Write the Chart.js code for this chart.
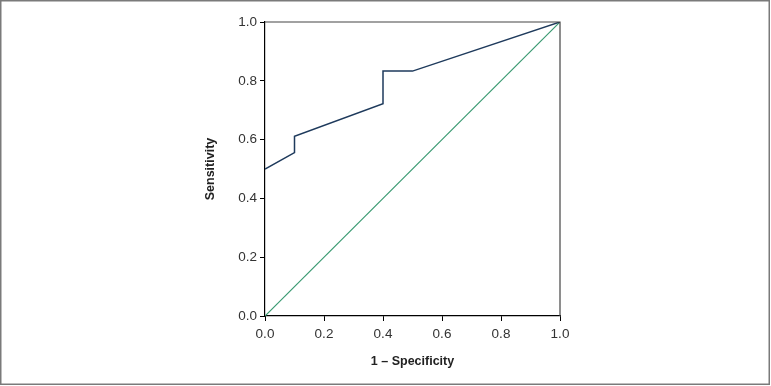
<!DOCTYPE html>
<html>
<head>
<meta charset="utf-8">
<script src="https://cdn.jsdelivr.net/npm/chart.js@4"></script>
<style>
  html, body { margin: 0; padding: 0; background: #fff; }
  #wrap { width: 771px; height: 386px; }
</style>
</head>
<body>
<div id="wrap"><canvas id="roc" width="771" height="386"></canvas></div>
<script>
'use strict';

// ROC curve points
const fpr = [0, 0.1, 0.1, 0.4, 0.4, 0.5, 1];
const tpr = [0.5, 0.556, 0.611, 0.722, 0.833, 0.833, 1];

// chance line
const refX = [0, 1];
const refY = [0, 1];

const tickValues = [0, 0.2, 0.4, 0.6, 0.8, 1];

const toPoints = (xs, ys) => xs.map((x, i) => ({ x: x, y: ys[i] }));

// outer frame + top/right edges of the plot box
const framePlugin = {
  id: 'frame',
  beforeDraw(chart) {
    const c = chart.ctx;
    c.save();
    c.fillStyle = '#fff';
    c.fillRect(0, 0, chart.width, chart.height);
    c.strokeStyle = '#7a7a7a';
    c.lineWidth = 1.5;
    c.strokeRect(0.75, 0.75, chart.width - 2.5, chart.height - 2.5);
    c.restore();
  },
  afterDraw(chart) {
    const a = chart.chartArea;
    const c = chart.ctx;
    c.save();
    c.strokeStyle = '#444';
    c.lineWidth = 1.2;
    c.beginPath();
    c.moveTo(a.left, a.top);
    c.lineTo(a.right, a.top);
    c.lineTo(a.right, a.bottom);
    c.stroke();
    c.restore();
  }
};

const tickFont = { family: 'Liberation Sans, Arial, sans-serif', size: 13.5 };
const titleFont = { family: 'Liberation Sans, Arial, sans-serif', size: 12.5, weight: 'bold' };

new Chart(document.getElementById('roc'), {
  type: 'scatter',
  data: {
    datasets: [
      {
        label: 'ROC',
        data: toPoints(fpr, tpr),
        showLine: true,
        borderColor: '#1e3a5c',
        borderWidth: 1.5,
        pointRadius: 0,
        tension: 0
      },
      {
        label: 'Reference',
        data: toPoints(refX, refY),
        showLine: true,
        borderColor: '#3a9a72',
        borderWidth: 1.2,
        pointRadius: 0
      }
    ]
  },
  options: {
    responsive: false,
    animation: false,
    layout: { padding: { left: 200, right: 211, top: 22, bottom: 0 } },
    plugins: {
      legend: { display: false },
      tooltip: { enabled: false }
    },
    scales: {
      x: {
        type: 'linear',
        min: 0,
        max: 1,
        afterBuildTicks: (s) => { s.ticks = tickValues.map(v => ({ value: v })); },
        afterFit: (s) => { s.height = 70; },
        ticks: {
          color: '#333',
          font: tickFont,
          padding: 5,
          maxRotation: 0,
          callback: (v) => Number(v).toFixed(1)
        },
        grid: { drawOnChartArea: false, drawTicks: true, tickLength: 5, color: '#000' },
        border: { display: true, color: '#000', width: 1.2 },
        title: {
          display: true,
          text: '1 – Specificity',
          color: '#222',
          font: titleFont,
          padding: { top: 0, bottom: 17 }
        }
      },
      y: {
        type: 'linear',
        min: 0,
        max: 1,
        afterBuildTicks: (s) => { s.ticks = tickValues.map(v => ({ value: v })); },
        afterFit: (s) => { s.width = 65; },
        ticks: {
          color: '#333',
          font: tickFont,
          padding: 3,
          callback: (v) => Number(v).toFixed(1)
        },
        grid: { drawOnChartArea: false, drawTicks: true, tickLength: 5, color: '#000' },
        border: { display: true, color: '#000', width: 1.2 },
        title: {
          display: true,
          text: 'Sensitivity',
          color: '#222',
          font: titleFont,
          padding: { top: 3, bottom: 0 }
        }
      }
    }
  },
  plugins: [framePlugin]
});
</script>
</body>
</html>
